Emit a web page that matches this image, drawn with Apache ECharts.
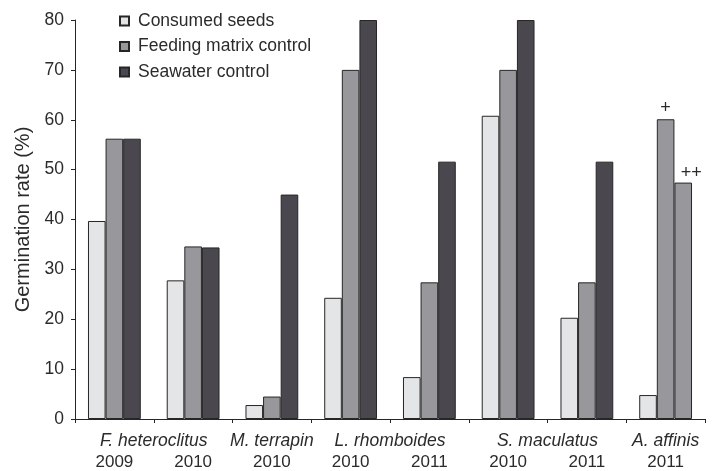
<!DOCTYPE html>
<html>
<head>
<meta charset="utf-8">
<script src="https://cdn.jsdelivr.net/npm/echarts@6/dist/echarts.min.js"></script>
<style>
  html, body { margin: 0; padding: 0; background: #fff; }
  #chart { width: 715px; height: 471px; }
</style>
</head>
<body>
<div id="chart"></div>
<script>
// Sampling years, one per bar group
const years = ['2009', '2010', '2010', '2010', '2011', '2010', '2011', '2011'];
// Species names and where each sits along the group axis (group i spans i..i+1)
const speciesNames = ['F. heteroclitus', 'M. terrapin', 'L. rhomboides', 'S. maculatus', 'A. affinis'];
const speciesPos = [1, 2.5, 4, 6, 7.5];

const consumedSeeds = [39.7, 27.8, 2.8, 24.3, 8.4, 60.8, 20.3, 4.8];
const feedingMatrix = [56.2, 34.6, 4.5, 70.0, 27.4, 70.0, 27.4, 60.1];
const seawater = [56.2, 34.4, 45.0, 80.0, 51.6, 80.0, 51.6, 47.4];

const yTicks = { min: 0, max: 80, interval: 10 };

const FONT = '"Liberation Sans", Arial, sans-serif';
const TXT = '#2b2b2b';
const EDGE = '#262626';
const C_LIGHT = '#e4e5e7';
const C_MID = '#98979c';
const C_DARK = '#4a484e';

const chart = echarts.init(document.getElementById('chart'));

const feedingData = feedingMatrix.map((v, i) =>
  i === 7 ? { value: v, label: { show: true, formatter: '+', position: 'top', distance: 2 } } : v);
const seawaterData = seawater.map((v, i) =>
  i === 7 ? { value: v, itemStyle: { color: C_MID },
              label: { show: true, formatter: '++', position: 'top', distance: 1, offset: [8, 0] } } : v);

const barCommon = {
  type: 'bar',
  barWidth: 17.6,
  barGap: '0%',
  label: { fontFamily: FONT, fontSize: 18, color: TXT },
  emphasis: { disabled: true }
};

chart.setOption({
  animation: false,
  textStyle: { fontFamily: FONT },
  grid: { left: 75, right: 10, top: 20, bottom: 49, containLabel: false },
  legend: {
    orient: 'vertical',
    left: 114,
    top: 7,
    icon: 'rect',
    itemWidth: 9,
    itemHeight: 9,
    itemGap: 7.5,
    textStyle: { fontFamily: FONT, fontSize: 17.5, color: TXT, padding: [0, 0, 0, 4] },
    data: ['Consumed seeds', 'Feeding matrix control', 'Seawater control']
  },
  xAxis: [
    {
      type: 'category',
      data: years,
      boundaryGap: true,
      axisLine: { lineStyle: { color: EDGE, width: 1 } },
      axisTick: { show: true, length: 4, lineStyle: { color: EDGE } },
      axisLabel: { fontFamily: FONT, fontSize: 17, color: TXT, margin: 35 }
    },
    {
      type: 'value',
      position: 'bottom',
      min: 0,
      max: 8,
      axisLine: { show: false },
      axisTick: { show: false },
      splitLine: { show: false },
      axisLabel: {
        customValues: speciesPos,
        fontFamily: FONT, fontSize: 17.5, fontStyle: 'italic', color: TXT, margin: 13,
        formatter: v => speciesNames[speciesPos.indexOf(v)]
      }
    }
  ],
  yAxis: {
    type: 'value',
    min: yTicks.min,
    max: yTicks.max,
    interval: yTicks.interval,
    name: 'Germination rate (%)',
    nameLocation: 'middle',
    nameGap: 42,
    nameTextStyle: { fontFamily: FONT, fontSize: 20, color: TXT },
    axisLine: { show: true, lineStyle: { color: EDGE, width: 1 } },
    axisTick: { show: true, length: 4, lineStyle: { color: EDGE } },
    splitLine: { show: false },
    axisLabel: { fontFamily: FONT, fontSize: 17.5, color: TXT, margin: 11 }
  },
  series: [
    Object.assign({}, barCommon, { name: 'Consumed seeds', data: consumedSeeds,
      itemStyle: { color: C_LIGHT, borderColor: EDGE, borderWidth: 1 } }),
    Object.assign({}, barCommon, { name: 'Feeding matrix control', data: feedingData,
      itemStyle: { color: C_MID, borderColor: EDGE, borderWidth: 1 } }),
    Object.assign({}, barCommon, { name: 'Seawater control', data: seawaterData,
      itemStyle: { color: C_DARK, borderColor: EDGE, borderWidth: 1 } })
  ]
});
</script>
</body>
</html>
